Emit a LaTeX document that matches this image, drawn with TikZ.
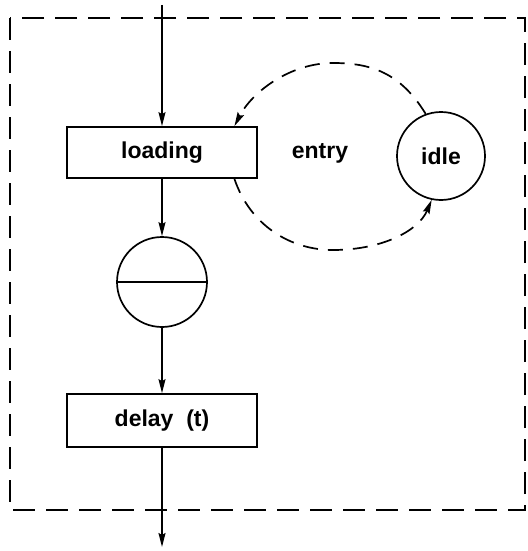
\documentclass[tikz,border=0pt]{standalone}
\usepackage{fontspec}
\setmainfont{Liberation Sans}
\usetikzlibrary{arrows.meta}
\begin{document}
\begin{tikzpicture}[x=1pt,y=-1pt,
  line width=1.7pt,
  lbl/.style={font=\fontsize{23}{27}\selectfont\bfseries},
  procbox/.style={draw,rectangle,minimum width=190pt,lbl,inner sep=0pt},
  flow/.style={-{Stealth[length=14pt,width=7pt,inset=2pt]}},
  frame/.style={dash pattern=on 22pt off 11pt},
  loopline/.style={flow,dash pattern=on 15pt off 10pt}]
\useasboundingbox (0,0) rectangle (527,551);

% outer dashed frame
\draw[frame] (10,18) rectangle (525,510);

% main chain
\node[procbox,minimum height=51pt] (loading) at (162,152.5) {loading};
\node[draw,circle,minimum size=90pt,inner sep=0pt] (queue) at (162,282) {};
\draw (queue.west) -- (queue.east);
\node[procbox,minimum height=53pt] (delay) at (162,420.5) {delay\ \ (t)};

\coordinate (in) at (162,5);
\coordinate (out) at (162,547);

\draw[flow] (in) -- (loading.north);
\draw[flow] (loading.south) -- (queue.north);
\draw[flow] (queue.south) -- (delay.north);
\draw[flow] (delay.south) -- (out);

% idle loop
\node[draw,circle,minimum size=88pt,inner sep=0pt,lbl] (idle) at (441,156) {idle};
\node[lbl] (entry) at (320,153) {entry};

\draw[loopline] (idle.110) .. controls (400,72) and (370,63) .. (333,63)
  .. controls (290,63) and (252,92) .. (loading.20);
\draw[loopline] (loading.-20) .. controls (250,225) and (290,250) .. (333,250)
  .. controls (380,250) and (418,232) .. (idle.258);
\end{tikzpicture}
\end{document}
